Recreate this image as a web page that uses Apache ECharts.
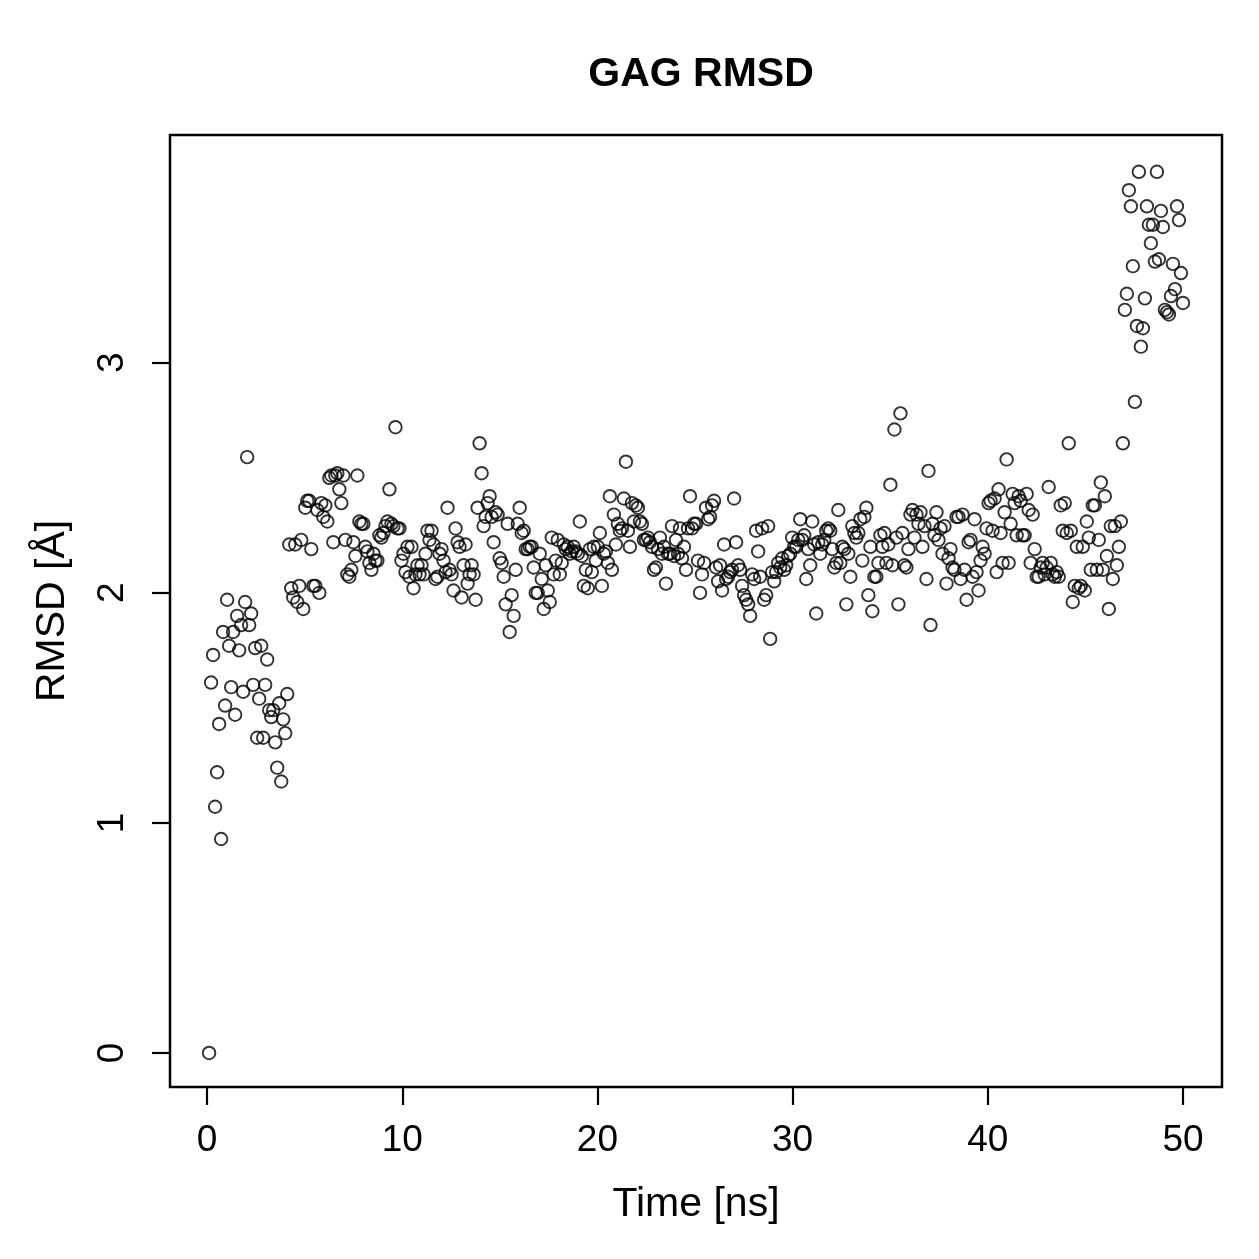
<!DOCTYPE html>
<html>
<head>
<meta charset="utf-8">
<script src="https://cdn.jsdelivr.net/npm/echarts@6/dist/echarts.min.js"></script>
<style>
html,body{margin:0;padding:0;background:#fff;}
#chart{width:1259px;height:1259px;}
</style>
</head>
<body>
<div id="chart"></div>
<script>
// RMSD values (Å), sampled every ~0.1 ns over 0–50 ns
const rmsd = [
0.00,1.61,1.73,1.07,1.22,1.43,0.93,1.83,1.51,1.97,
1.77,1.59,1.83,1.47,1.90,1.75,1.86,1.57,1.96,2.59,
1.86,1.91,1.60,1.76,1.37,1.54,1.77,1.37,1.60,1.71,
1.49,1.46,1.49,1.35,1.24,1.52,1.18,1.45,1.39,1.56,
2.21,2.02,1.98,2.21,1.96,2.03,2.23,1.93,2.37,2.40,
2.40,2.19,2.03,2.03,2.36,2.00,2.39,2.33,2.38,2.31,
2.50,2.51,2.22,2.51,2.52,2.45,2.39,2.51,2.23,2.08,
2.07,2.10,2.22,2.16,2.51,2.31,2.30,2.30,2.20,2.18,
2.13,2.10,2.17,2.14,2.14,2.25,2.24,2.26,2.29,2.31,
2.45,2.30,2.29,2.72,2.28,2.28,2.14,2.17,2.09,2.20,
2.07,2.20,2.02,2.08,2.12,2.08,2.12,2.08,2.17,2.27,
2.23,2.27,2.21,2.06,2.07,2.17,2.19,2.14,2.09,2.37,
2.10,2.08,2.01,2.28,2.22,2.20,1.98,2.12,2.21,2.04,
2.08,2.12,2.08,1.97,2.37,2.65,2.52,2.29,2.33,2.39,
2.42,2.33,2.22,2.35,2.34,2.15,2.13,2.07,1.95,2.30,
1.83,1.99,1.90,2.10,2.30,2.37,2.26,2.27,2.19,2.19,
2.20,2.20,2.11,2.00,2.00,2.17,2.06,1.93,2.12,2.01,
1.96,2.24,2.08,2.14,2.23,2.08,2.13,2.21,2.19,2.20,
2.17,2.18,2.20,2.18,2.17,2.31,2.16,2.03,2.10,2.02,
2.19,2.09,2.20,2.14,2.20,2.26,2.03,2.17,2.18,2.13,
2.42,2.10,2.34,2.21,2.30,2.27,2.28,2.41,2.57,2.27,
2.20,2.39,2.31,2.38,2.37,2.31,2.30,2.23,2.23,2.24,
2.22,2.20,2.10,2.11,2.19,2.24,2.17,2.20,2.04,2.17,
2.17,2.29,2.16,2.23,2.17,2.28,2.15,2.20,2.10,2.28,
2.42,2.28,2.30,2.30,2.14,2.00,2.08,2.13,2.37,2.32,
2.33,2.38,2.40,2.11,2.05,2.12,2.01,2.21,2.06,2.07,
2.09,2.10,2.41,2.22,2.12,2.10,2.03,1.99,1.97,1.95,
1.90,2.08,2.06,2.27,2.18,2.07,2.28,1.97,1.99,2.29,
1.80,2.09,2.05,2.09,2.13,2.11,2.15,2.10,2.12,2.16,
2.17,2.24,2.20,2.20,2.23,2.32,2.23,2.25,2.06,2.19,
2.12,2.31,2.21,1.91,2.22,2.17,2.21,2.23,2.27,2.28,
2.27,2.19,2.11,2.13,2.36,2.13,2.20,2.19,1.95,2.17,
2.07,2.29,2.26,2.24,2.26,2.32,2.14,2.33,2.37,1.99,
2.20,1.92,2.07,2.07,2.13,2.25,2.20,2.26,2.13,2.21,
2.47,2.12,2.71,2.24,1.95,2.78,2.26,2.12,2.11,2.19,
2.34,2.36,2.24,2.34,2.30,2.35,2.20,2.29,2.06,2.53,
1.86,2.30,2.25,2.35,2.23,2.28,2.17,2.29,2.04,2.15,
2.19,2.11,2.10,2.33,2.33,2.06,2.34,2.10,1.97,2.22,
2.23,2.07,2.32,2.09,2.01,2.14,2.20,2.17,2.28,2.39,
2.40,2.27,2.41,2.09,2.45,2.26,2.13,2.35,2.58,2.13,
2.30,2.43,2.39,2.25,2.42,2.40,2.25,2.25,2.43,2.36,
2.13,2.34,2.19,2.07,2.07,2.11,2.13,2.08,2.11,2.46,
2.13,2.08,2.07,2.09,2.07,2.38,2.27,2.39,2.26,2.65,
2.27,1.96,2.03,2.20,2.02,2.03,2.20,2.01,2.31,2.24,
2.10,2.38,2.38,2.10,2.23,2.48,2.10,2.42,2.16,1.93,
2.29,2.06,2.29,2.12,2.20,2.31,2.65,
3.23,3.30,3.75,3.68,3.42,2.83,3.16,3.83,3.07,3.15,
3.28,3.68,3.60,3.52,3.60,3.44,3.83,3.45,3.66,3.59,
3.23,3.22,3.21,3.29,3.43,3.32,3.68,3.62,3.39,3.26
];
// sampling times (ns): frames evenly spaced up to 50 ns
const timeStep = 50 / rmsd.length;
const time = rmsd.map((_, i) => +((i + 1) * timeStep).toFixed(3));

const xTicks = [0, 10, 20, 30, 40, 50];
const yTicks = [0, 1, 2, 3];
const titleText = 'GAG RMSD';
const xName = 'Time [ns]';
const yName = 'RMSD [Å]';

const points = time.map((t, i) => [t, rmsd[i]]);

const FONT = '"Liberation Sans", Arial, Helvetica, sans-serif';
const chart = echarts.init(document.getElementById('chart'), null, {renderer: 'canvas'});
chart.setOption({
  animation: false,
  backgroundColor: '#ffffff',
  title: {
    text: titleText,
    left: 696,
    textAlign: 'center',
    top: 49,
    textStyle: {fontFamily: FONT, fontWeight: 'bold', fontSize: 41, color: '#000'}
  },
  grid: {
    left: 170, top: 135, width: 1052, height: 952,
    show: true, borderColor: '#000', borderWidth: 2.5, backgroundColor: 'transparent'
  },
  xAxis: {
    type: 'value', min: -1.9, max: 52.0,
    name: xName, nameLocation: 'middle', nameGap: 97,
    nameTextStyle: {fontFamily: FONT, fontSize: 41, color: '#000'},
    splitLine: {show: false},
    axisLine: {show: false, onZero: false},
    axisTick: {show: true, length: 18, lineStyle: {color: '#000', width: 2.2}, customValues: xTicks},
    axisLabel: {show: true, margin: 35, fontFamily: FONT, fontSize: 37, color: '#000', customValues: xTicks}
  },
  yAxis: {
    type: 'value', min: -0.148, max: 3.99,
    name: yName, nameLocation: 'middle', nameGap: 97, nameRotate: 90,
    nameTextStyle: {fontFamily: FONT, fontSize: 41, color: '#000'},
    splitLine: {show: false},
    axisLine: {show: false, onZero: false},
    axisTick: {show: true, length: 18, lineStyle: {color: '#000', width: 2.2}, customValues: yTicks},
    axisLabel: {show: true, margin: 39, rotate: 90, fontFamily: FONT, fontSize: 37, color: '#000', customValues: yTicks}
  },
  series: [{
    type: 'scatter',
    data: points,
    symbol: 'circle',
    symbolSize: 12.5,
    itemStyle: {color: 'rgba(0,0,0,0)', borderColor: '#000', borderWidth: 1.9},
    emphasis: {disabled: true}
  }]
});
</script>
</body>
</html>
